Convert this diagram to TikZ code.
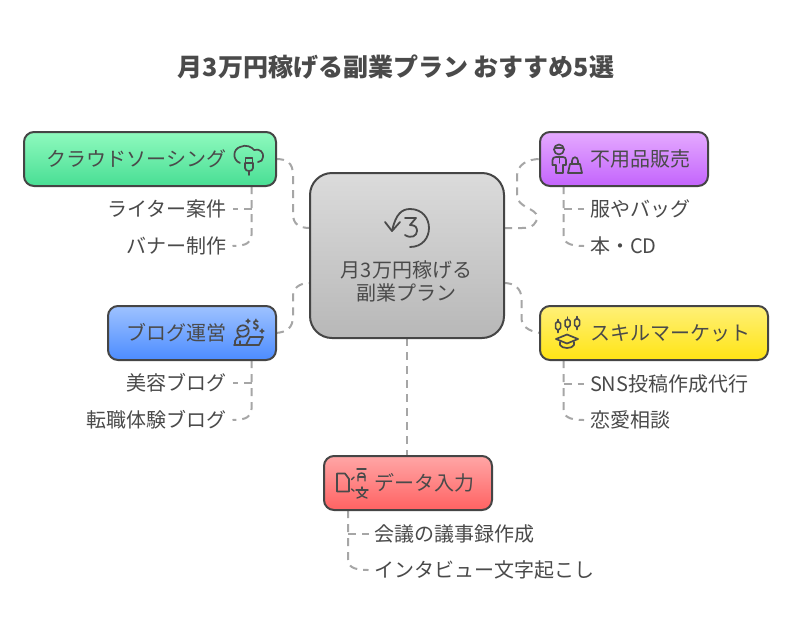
\documentclass[tikz,border=0pt]{standalone}
\usepackage{fontspec}
\setmainfont{Noto Sans CJK JP}
\definecolor{ink}{HTML}{4A4A4A}
\definecolor{stroke}{HTML}{454545}
\definecolor{dashc}{HTML}{A6A6A6}
\tikzset{
  boxstyle/.style={draw=none,outer sep=0pt,inner sep=0pt,minimum height=54pt},
  conn/.style={draw=dashc,line width=2pt,dash pattern=on 8pt off 6pt},
  lbl/.style={inner sep=0pt,outer sep=0pt,text=ink,font=\fontsize{20}{24}\selectfont},
  icon/.style={draw=ink,line width=1.7pt,line cap=round,line join=round,fill=none},
  thin icon/.style={icon,line width=1.4pt},
  face/.style={draw=stroke,line width=2pt,rounded corners=10pt}
}
\begin{document}
\begin{tikzpicture}[x=1pt,y=-1pt]
\useasboundingbox (0,0) rectangle (792,630);
\fill[white] (0,0) rectangle (792,630);
\node[inner sep=0pt,text=ink,font=\fontsize{25}{30}\selectfont\bfseries] (title) at (396,67) {月3万円稼げる副業プラン おすすめ5選};

\coordinate (cL1) at (310,228); \coordinate (cL2) at (310,283);
\coordinate (cR1) at (504,228); \coordinate (cR2) at (504,283);

\node[boxstyle,minimum width=194pt,minimum height=165pt] (center) at (407,255.5) {};
\node[boxstyle,minimum width=252pt] (crowd) at (150,159) {};
\node[boxstyle,minimum width=168pt] (fuyou) at (624,159) {};
\node[boxstyle,minimum width=168pt] (blog) at (192,333) {};
\node[boxstyle,minimum width=228pt] (skill) at (654,333) {};
\node[boxstyle,minimum width=168pt] (data) at (408,483) {};

\node[lbl,anchor=east] (s1) at (226.5,209) {ライター案件};
\node[lbl,anchor=east] (s2) at (226.5,246) {バナー制作};
\node[lbl,anchor=west] (s3) at (590,209) {服やバッグ};
\node[lbl,anchor=west] (s4) at (590,246) {本・CD};
\node[lbl,anchor=east] (s5) at (226.5,383) {美容ブログ};
\node[lbl,anchor=east] (s6) at (226.5,420) {転職体験ブログ};
\node[lbl,anchor=west] (s7) at (590,384) {SNS投稿作成代行};
\node[lbl,anchor=west] (s8) at (590,420) {恋愛相談};
\node[lbl,anchor=west] (s9) at (374.5,534) {会議の議事録作成};
\node[lbl,anchor=west] (s10) at (374.5,570) {インタビュー文字起こし};

\draw[conn] (crowd.east) .. controls (287,159) and (293,163) .. (293,175) -- (293,214) .. controls (293,224) and (299,228) .. (cL1);
\draw[conn] (cR1) -- (522,228) .. controls (533,228) and (537,223) .. (537,217) .. controls (537,208) and (517,208) .. (517,195) -- (517,176) .. controls (517,165) and (527,159) .. (fuyou.west);
\draw[conn] (blog.east) .. controls (287,332) and (293,328) .. (293,316) -- (293,297) .. controls (293,288) and (299,283) .. (cL2);
\draw[conn] (cR2) .. controls (515,283) and (521.5,289) .. (521.5,299) -- (521.5,318) .. controls (521.5,326) and (528,331) .. (skill.west);
\draw[conn] (center.south) -- (data.north -| center.south);

\coordinate (t1) at (251.5,186); \coordinate (t2) at (563.5,186); \coordinate (t3) at (251.5,360);
\coordinate (t4) at (563.5,360); \coordinate (t5) at (348,510);
\draw[conn] (t1) -- (251.5,235) .. controls (251.5,242) and (247,246) .. ([xshift=6pt]s2.east);
\draw[conn] (251.5,209) -- ([xshift=6pt]s1.east);
\draw[conn] (t2) -- (563.5,235) .. controls (563.5,242) and (568,246) .. ([xshift=-6pt]s4.west);
\draw[conn] (563.5,209) -- ([xshift=-6pt]s3.west);
\draw[conn] (t3) -- (251.5,409) .. controls (251.5,416) and (247,420) .. ([xshift=6pt]s6.east);
\draw[conn] (251.5,383) -- ([xshift=6pt]s5.east);
\draw[conn] (t4) -- (563.5,409) .. controls (563.5,416) and (568,420) .. ([xshift=-6pt]s8.west);
\draw[conn] (563.5,384) -- ([xshift=-6pt]s7.west);
\draw[conn] (t5) -- (348,559) .. controls (348,566) and (352,570) .. ([xshift=-6pt]s10.west);
\draw[conn] (348,534) -- ([xshift=-6pt]s9.west);

\shade[top color=black!14,bottom color=black!28,face,rounded corners=22pt] (center.north west) rectangle (center.south east);
\shade[top color={rgb,255:red,143;green,250;blue,190},bottom color={rgb,255:red,72;green,222;blue,148},face] (crowd.north west) rectangle (crowd.south east);
\shade[top color={rgb,255:red,229;green,170;blue,255},bottom color={rgb,255:red,195;green,100;blue,252},face] (fuyou.north west) rectangle (fuyou.south east);
\shade[top color={rgb,255:red,158;green,194;blue,255},bottom color={rgb,255:red,76;green,140;blue,255},face] (blog.north west) rectangle (blog.south east);
\shade[top color={rgb,255:red,255;green,240;blue,120},bottom color={rgb,255:red,255;green,228;blue,20},face] (skill.north west) rectangle (skill.south east);
\shade[top color={rgb,255:red,255;green,166;blue,166},bottom color={rgb,255:red,255;green,98;blue,98},face] (data.north west) rectangle (data.south east);

\node[lbl,anchor=east] (l1) at (226.5,159) {クラウドソーシング};
\node[lbl,anchor=west] (l2) at (590.5,159) {不用品販売};
\node[lbl,anchor=east] (l3) at (226.5,333) {ブログ運営};
\node[lbl,anchor=west] (l4) at (590.5,333) {スキルマーケット};
\node[lbl,anchor=west] (l5) at (374.5,483) {データ入力};
\node[lbl] (l0a) at (406.5,270) {月3万円稼げる};
\node[lbl] (l0b) at (406.5,293) {副業プラン};

% centre icon
\draw[icon,line width=1.8pt] (410,247) .. controls (435.3,247) and (435.3,209) .. (410,209) .. controls (402,209) and (396,214) .. (392.5,229);
\draw[icon,line width=1.8pt] (385,222) -- (392,231) -- (400,222);
\draw[icon,line width=1.8pt] (405,218) -- (416,218) -- (410,225) .. controls (416,225) and (417,228) .. (417,231) .. controls (417,236) and (411,239) .. (405,235);

% cloud with plug
\draw[icon] (240,163) .. controls (232,160) and (233,149) .. (240,147) .. controls (246,144) and (252,147) .. (254,150) .. controls (260,148) and (264,153) .. (263,157) .. controls (263,160) and (261,162) .. (258,162);
\draw[icon] (245.5,158) -- (252.5,158) -- (252.5,163) -- (245.5,163) -- cycle;
\draw[icon] (245,163) -- (245,168) .. controls (245,170) and (247,171) .. (249,171) .. controls (251,171) and (253,170) .. (253,168) -- (253,163);
\draw[icon] (249,171) -- (249,175);

% person with bag
\draw[icon] (559,149.5) circle[radius=5];
\draw[thin icon] (554.5,148) -- (563.5,148);
\draw[icon] (552.5,165) -- (552.5,160) .. controls (552.5,158) and (554,157) .. (556,157) -- (563,157) .. controls (565,157) and (566,158) .. (566,160) -- (566,165) -- (563,165);
\draw[icon] (552.5,165) -- (556,165) -- (556,173) -- (563,173) -- (563,165);
\draw[thin icon] (559.5,157) -- (559.5,163);
\draw[icon] (568,173) -- (582,173) -- (580,164) -- (570,164) -- cycle;
\draw[icon] (572,164) -- (572,161) .. controls (572,156) and (578,156) .. (578,161) -- (578,164);

% blog icon
\draw[icon] (243,331) circle[radius=5.7];
\draw[thin icon] (237.5,330) .. controls (241,332) and (245,330) .. (248,328);
\draw[icon] (235,345) -- (235,341) .. controls (235,338) and (238,337) .. (241,336.5);
\draw[icon] (234,345) -- (259,345) -- (263,337) -- (250,337) -- (246,345);
\draw[thin icon] (240,341) -- (240,345);
\node[inner sep=0pt,text=ink,font=\fontsize{12}{12}\selectfont\bfseries] (dollar) at (256,325) {\$};
\fill[ink] (248,318) -- (249,320) -- (251,321) -- (249,322) -- (248,324) -- (247,322) -- (245,321) -- (247,320) -- cycle;
\fill[ink] (262,328) -- (263,330) -- (265,331) -- (263,332) -- (262,334) -- (261,332) -- (259,331) -- (261,330) -- cycle;

% candlesticks and cap
\foreach \cx/\cy in {558/326,567.5/323.5,577/323}{
  \draw[icon,line width=1.5pt,rounded corners=1.5pt] (\cx-2.5,\cy-4) rectangle (\cx+2.5,\cy+3.5);
  \draw[icon,line width=1.5pt] (\cx,\cy-6.5) -- (\cx,\cy-4);
  \draw[icon,line width=1.5pt] (\cx,\cy+3.5) -- (\cx,\cy+6.5);
}
\draw[icon] (556,339) -- (567,334.5) -- (578,339) -- (567,343.5) -- cycle;
\draw[icon] (560,342) -- (560,345) .. controls (562,349) and (572,349) .. (574,345) -- (574,342);

% translate document
\draw[icon] (337,473.5) -- (345,473.5) -- (349,479) -- (349,491.5) -- (337,491.5) -- cycle;
\draw[thin icon] (351.5,479.5) -- (354,477);
\draw[thin icon] (351.5,489) -- (354,491);
\draw[thin icon] (357,469) -- (366,469);
\draw[thin icon] (358,481) -- (358,476) .. controls (358,472) and (365,472) .. (365,476) -- (365,481);
\draw[thin icon] (358,477) -- (365,477);
\draw[thin icon] (356,490) -- (368,490);
\draw[thin icon] (362,487) -- (362,490);
\draw[thin icon] (358,490) .. controls (359,494) and (363,497) .. (367,498);
\draw[thin icon] (366,490) .. controls (365,494) and (361,497) .. (357,498);
\end{tikzpicture}
\end{document}
